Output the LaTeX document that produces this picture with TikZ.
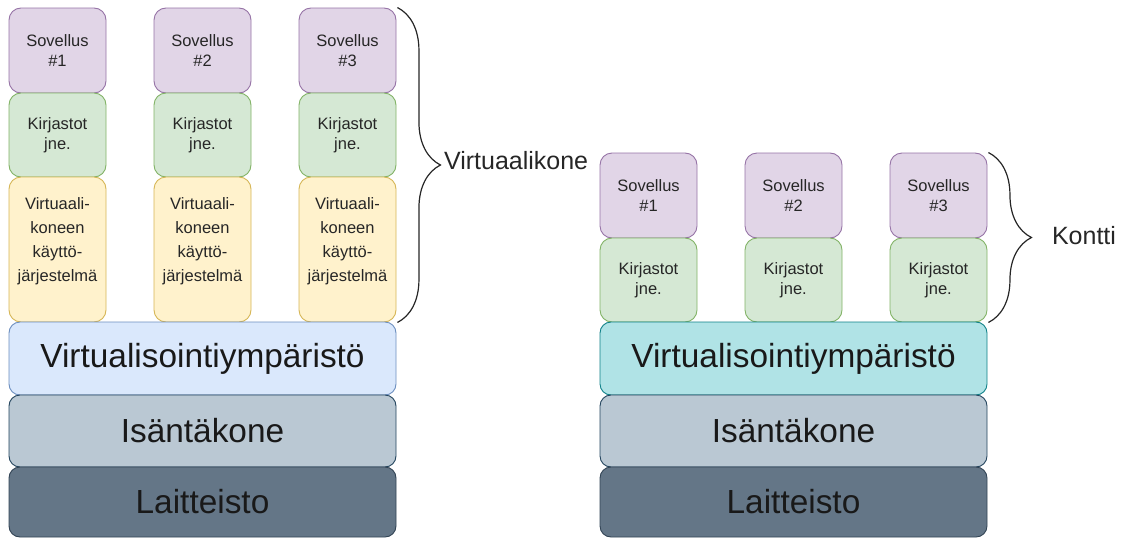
\documentclass[tikz,border=0pt]{standalone}
\usepackage{fontspec}
\setmainfont{Liberation Sans}
\usetikzlibrary{decorations.pathreplacing}

\definecolor{sovfill}{HTML}{E1D5E7}
\definecolor{sovline}{HTML}{9673A6}
\definecolor{kirfill}{HTML}{D5E8D4}
\definecolor{kirline}{HTML}{82B366}
\definecolor{osfill}{HTML}{FFF2CC}
\definecolor{osline}{HTML}{D6B656}
\definecolor{virfill}{HTML}{DAE8FC}
\definecolor{virline}{HTML}{6C8EBF}
\definecolor{konfill}{HTML}{B0E3E6}
\definecolor{konline}{HTML}{0E8088}
\definecolor{isafill}{HTML}{BAC8D3}
\definecolor{isaline}{HTML}{23445D}
\definecolor{laifill}{HTML}{647687}
\definecolor{lailine}{HTML}{314354}

\tikzset{
  kerros/.style={rectangle, rounded corners=12pt, line width=0.9pt, inner sep=0pt, align=center, text=black!85},
  sovellus/.style={kerros, fill=sovfill, draw=sovline, minimum width=97pt, minimum height=85pt, font=\fontsize{16.5}{20}\selectfont},
  kirjasto/.style={kerros, fill=kirfill, draw=kirline, minimum width=97pt, minimum height=84pt, font=\fontsize{16.5}{20}\selectfont},
  kayttis/.style={kerros, fill=osfill, draw=osline, minimum width=97pt, minimum height=145pt, font=\fontsize{16.5}{24}\selectfont},
  palkki/.style={kerros, rounded corners=11pt, minimum width=387pt, font=\fontsize{33.4}{40}\selectfont, text=black!90},
  sulje/.style={draw=black!85, line width=1.2pt, decorate, decoration={brace, amplitude=43pt}},
  otsikko/.style={anchor=west, inner sep=0pt, font=\fontsize{25}{30}\selectfont, text=black!85}
}

\begin{document}
\begin{tikzpicture}[x=1pt, y=-1pt]
  \useasboundingbox (0,0) rectangle (1123,538);
  % virtuaalikoneet
  \node[sovellus] (vsov1) at (57.5,50.5) {Sovellus\\\#1};
  \node[sovellus] (vsov2) at (202.5,50.5) {Sovellus\\\#2};
  \node[sovellus] (vsov3) at (347.5,50.5) {Sovellus\\\#3};
  \node[kirjasto] (vkir1) at (57.5,135) {Kirjastot\\jne.};
  \node[kirjasto] (vkir2) at (202.5,135) {Kirjastot\\jne.};
  \node[kirjasto] (vkir3) at (347.5,135) {Kirjastot\\jne.};
  \node[kayttis] (vos1) at (57.5,249.5) {Virtuaali-\\koneen\\käyttö-\\järjestelmä\\[-12pt]\strut};
  \node[kayttis] (vos2) at (202.5,249.5) {Virtuaali-\\koneen\\käyttö-\\järjestelmä\\[-12pt]\strut};
  \node[kayttis] (vos3) at (347.5,249.5) {Virtuaali-\\koneen\\käyttö-\\järjestelmä\\[-12pt]\strut};
  \node[palkki, fill=virfill, draw=virline, minimum height=73pt] (vvirt) at (202.5,358.5) {Virtualisointiympäristö};
  \node[palkki, fill=isafill, draw=isaline, minimum height=72pt] (visa) at (202.5,431) {Isäntäkone};
  \node[palkki, fill=laifill, draw=lailine, minimum height=70pt] (vlai) at (202.5,502) {Laitteisto};
  \draw[sulje] ([xshift=1pt]vsov3.north east) -- ([xshift=1pt]vos3.south east)
    node[otsikko, midway, xshift=46pt, yshift=4pt] (vnimi) {Virtuaalikone};

  % kontit
  \node[sovellus] (ksov1) at (648.5,195.5) {Sovellus\\\#1};
  \node[sovellus] (ksov2) at (793.5,195.5) {Sovellus\\\#2};
  \node[sovellus] (ksov3) at (938.5,195.5) {Sovellus\\\#3};
  \node[kirjasto] (kkir1) at (648.5,280) {Kirjastot\\jne.};
  \node[kirjasto] (kkir2) at (793.5,280) {Kirjastot\\jne.};
  \node[kirjasto] (kkir3) at (938.5,280) {Kirjastot\\jne.};
  \node[palkki, fill=konfill, draw=konline, minimum height=73pt] (kvirt) at (793.5,358.5) {Virtualisointiympäristö};
  \node[palkki, fill=isafill, draw=isaline, minimum height=72pt] (kisa) at (793.5,431) {Isäntäkone};
  \node[palkki, fill=laifill, draw=lailine, minimum height=70pt] (klai) at (793.5,502) {Laitteisto};
  \draw[sulje] ([xshift=1pt]ksov3.north east) -- ([xshift=1pt]kkir3.south east)
    node[otsikko, midway, xshift=63pt, yshift=2pt] (knimi) {Kontti};
\end{tikzpicture}
\end{document}
